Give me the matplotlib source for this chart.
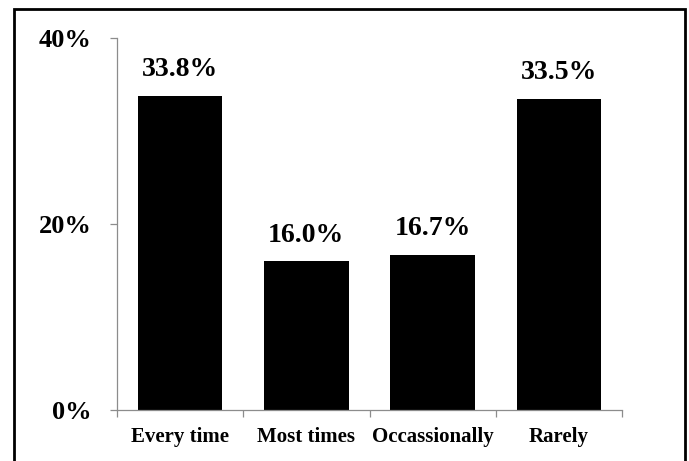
import matplotlib
matplotlib.use("Agg")
import matplotlib.pyplot as plt
from matplotlib.patches import Rectangle
from matplotlib.ticker import FuncFormatter, FixedLocator

categories = ["Every time", "Most times", "Occassionally", "Rarely"]
values = [33.8, 16.0, 16.7, 33.5]
y_ticks = [0, 20, 40]

plt.rcParams["font.family"] = ["Liberation Serif", "DejaVu Serif"]
plt.rcParams["font.weight"] = "bold"

W, H, DPI = 689, 461, 100
fig = plt.figure(figsize=(W / DPI, H / DPI), dpi=DPI)
ax = fig.add_axes([116.7 / W, (H - 410) / H, (622.3 - 116.7) / W, (410 - 38.3) / H])

x = list(range(len(categories)))
bars = ax.bar(x, values, width=0.67, color="black", zorder=2)

for b, v in zip(bars, values):
    ax.annotate(f"{v:.1f}%", (b.get_x() + b.get_width() / 2, v),
                xytext=(0, 14), textcoords="offset points",
                ha="center", va="baseline", fontsize=20, fontweight="bold")

ax.set_xlim(-0.5, len(categories) - 0.5)
ax.set_ylim(0, 40)
ax.set_yticks(y_ticks)
ax.yaxis.set_major_formatter(FuncFormatter(lambda v, p: f"{v:.0f}%"))
ax.tick_params(axis="y", labelsize=19, length=5, width=0.9, color="#8c8c8c", pad=13)

# categories sit between boundary ticks
ax.xaxis.set_major_locator(FixedLocator([i - 0.5 for i in range(len(categories) + 1)]))
ax.xaxis.set_ticklabels([])
ax.xaxis.set_minor_locator(FixedLocator(x))
ax.xaxis.set_ticklabels(categories, minor=True)
ax.tick_params(axis="x", which="major", length=5, width=0.9, color="#8c8c8c")
ax.tick_params(axis="x", which="minor", length=0, labelsize=15, pad=12)

for s in ["top", "right"]:
    ax.spines[s].set_visible(False)
for s in ["left", "bottom"]:
    ax.spines[s].set_color("#8c8c8c")
    ax.spines[s].set_linewidth(0.9)

fig.patches.append(Rectangle((13.8 / W, -0.05), (685 - 13.8) / W, (H - 9.5) / H + 0.05,
                             transform=fig.transFigure, fill=False,
                             edgecolor="black", linewidth=2.0))

fig.savefig("out.png", dpi=DPI)
